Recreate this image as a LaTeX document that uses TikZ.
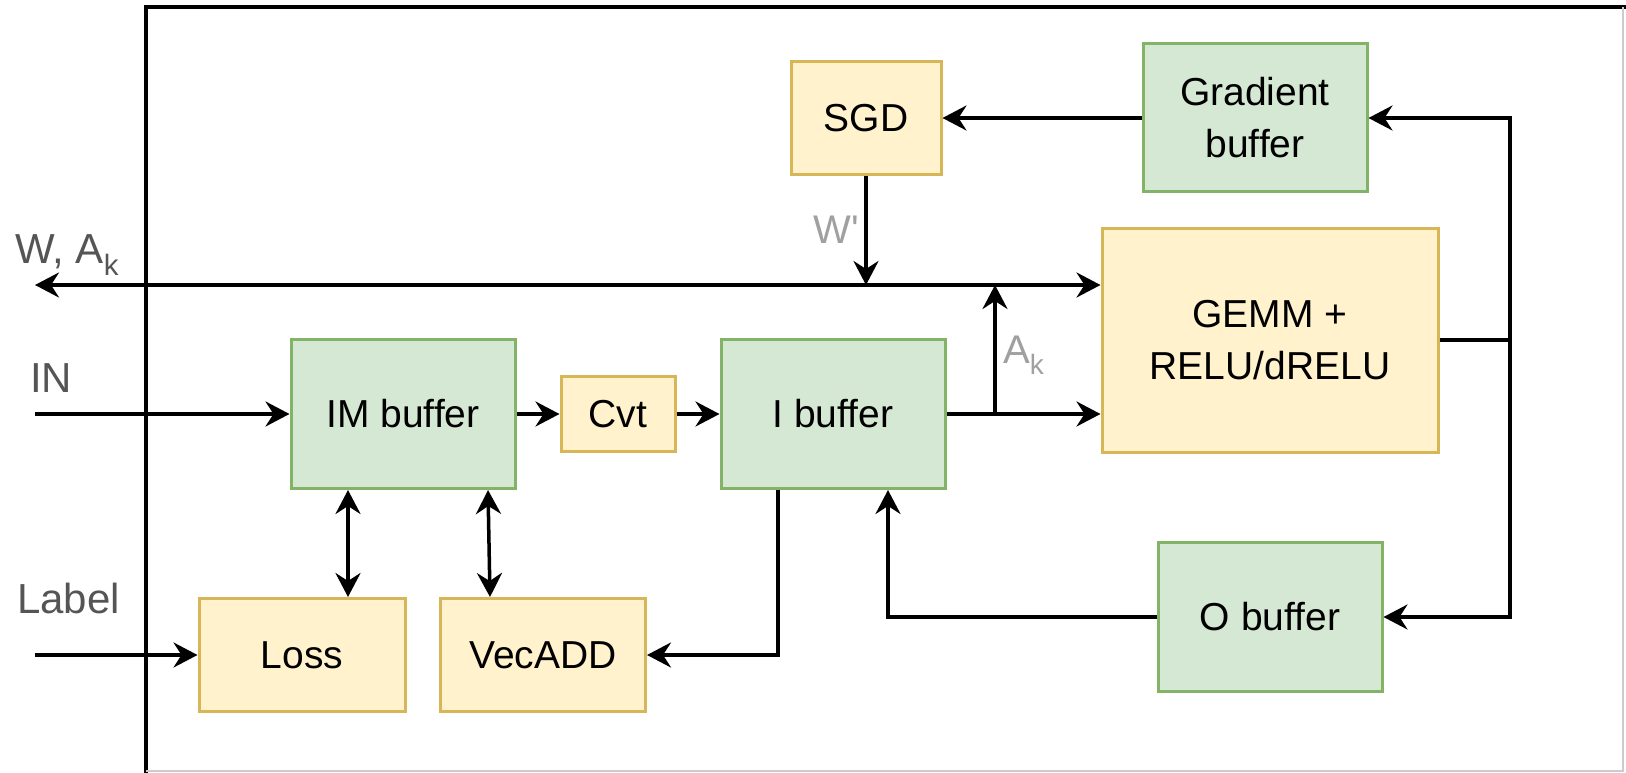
\documentclass[tikz,border=0pt]{standalone}
\usepackage{fontspec}
\setmainfont{Liberation Sans}
\usetikzlibrary{arrows.meta,calc}
\definecolor{gfill}{HTML}{D5E8D4}
\definecolor{gline}{HTML}{82B366}
\definecolor{yfill}{HTML}{FFF2CC}
\definecolor{yline}{HTML}{D6B656}
\definecolor{lbl}{HTML}{555555}
\definecolor{lbltwo}{HTML}{A0A0A0}
\tikzset{
  dtip/.tip={Stealth[length=24pt,width=25pt,inset=8pt]},
  box/.style={draw, line width=3pt, align=center, inner sep=0pt,
    font=\fontsize{39}{52}\selectfont},
  gbox/.style={box, draw=gline, fill=gfill},
  ybox/.style={box, draw=yline, fill=yfill},
  conn/.style={line width=3.5pt, -dtip},
  connb/.style={line width=3.5pt, dtip-dtip},
  plain/.style={line width=3.5pt},
  outlbl/.style={text=lbl, inner sep=0pt, font=\fontsize{42}{42}\selectfont},
  inlbl/.style={text=lbltwo, inner sep=0pt, font=\fontsize{40}{40}\selectfont},
}
\begin{document}
\begin{tikzpicture}[x=1pt,y=-1pt]
\useasboundingbox (0,0) rectangle (1626,773);
% frame
\draw[line width=3.5pt] (146,773) -- (146,7) -- (1626,7);
\draw[black!20, line width=2pt] (1623,7) -- (1623,771) -- (146,771);

% nodes
\node[ybox, minimum width=150pt, minimum height=113pt] (sgd) at (866,118) {SGD};
\node[gbox, minimum width=224pt, minimum height=148pt] (grad) at (1255,118) {Gradient\\buffer};
\node[ybox, minimum width=336pt, minimum height=224pt] (gemm) at (1270,340) {GEMM +\\RELU/dRELU};
\node[gbox, minimum width=224pt, minimum height=149pt] (im) at (403,414) {IM buffer};
\node[ybox, minimum width=114pt, minimum height=75pt] (cvt) at (618,414) {Cvt};
\node[gbox, minimum width=224pt, minimum height=149pt] (ibuf) at (833,414) {I buffer};
\node[ybox, minimum width=206pt, minimum height=113pt] (loss) at (302,655) {Loss};
\node[ybox, minimum width=205pt, minimum height=113pt] (vec) at (543,655) {VecADD};
\node[gbox, minimum width=224pt, minimum height=149pt] (obuf) at (1270,617) {O buffer};

% free ends
\coordinate (busL) at (35,285);
\coordinate (inL) at (35,414);
\coordinate (lbL) at (35,655);
\coordinate (akb) at (995,414);
\coordinate (rv) at (1510,340);

% connectors
\draw[connb] (busL) -- (gemm.west |- busL);
\draw[conn] (sgd.south) -- (sgd.south |- busL);
\draw[conn] (akb) -- (akb |- busL);
\draw[conn] (ibuf.east) -- (gemm.west |- ibuf.east);
\draw[plain] (gemm.east) -- (rv);
\draw[conn] (rv) |- (grad.east);
\draw[conn] (rv) |- (obuf.east);
\draw[conn] (grad.west) -- (sgd.east);
\draw[conn] (obuf.west) -| ([xshift=55pt]ibuf.south);
\draw[conn] ([xshift=-55pt]ibuf.south) |- (vec.east);
\draw[connb] ([xshift=-55pt]im.south) -- ([xshift=-55pt]im.south |- loss.north);
\draw[connb] ([xshift=85pt]im.south) -- ([xshift=-53pt]vec.north);
\draw[conn] (inL) -- (im.west);
\draw[conn] (im.east) -- (cvt.west);
\draw[conn] (cvt.east) -- (ibuf.west);
\draw[conn] (lbL) -- (loss.west);

% labels
\node[outlbl, anchor=base west] (lw) at (15,263) {W, A\textsubscript{k}};
\node[outlbl, anchor=base west] (lin) at (30,392) {IN};
\node[outlbl, anchor=base west] (llab) at (17,613) {Label};
\node[inlbl, anchor=base east] (lwp) at (859,243) {W\textquotesingle};
\node[inlbl, anchor=base west] (lak) at (1003,363) {A\textsubscript{k}};
\end{tikzpicture}
\end{document}
